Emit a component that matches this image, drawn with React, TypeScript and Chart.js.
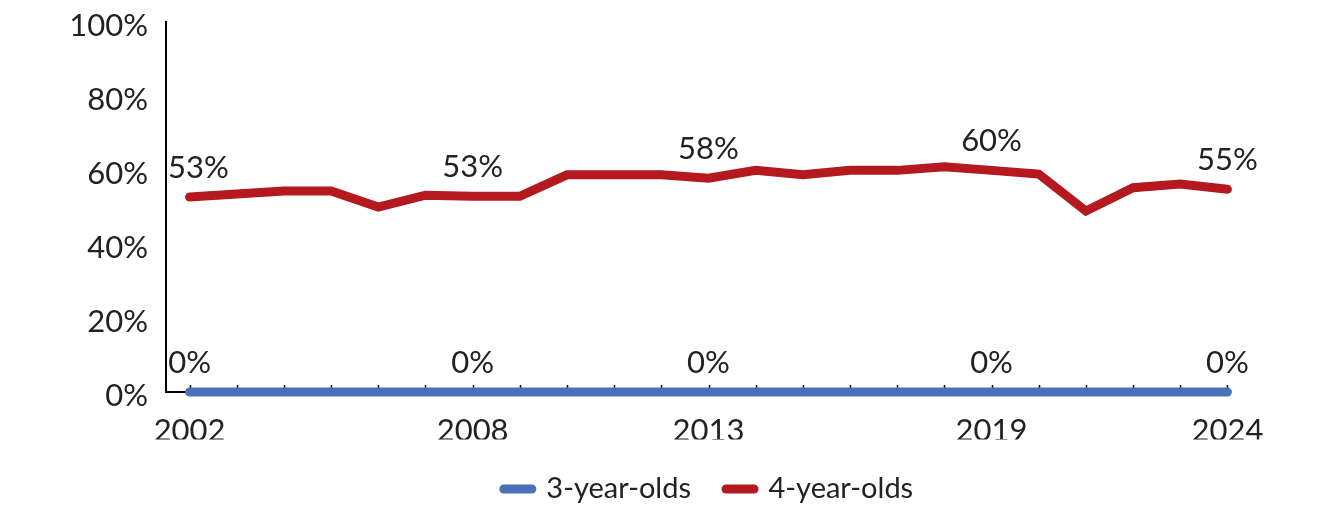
import React, { useEffect, useRef } from "react";
import { Chart, registerables } from "chart.js";

Chart.register(...registerables);

const years = [
  "2002", "2003", "2004", "2005", "2006", "2007", "2008", "2009", "2010", "2011", "2012", "2013",
  "2014", "2015", "2016", "2017", "2018", "2019", "2020", "2021", "2022", "2023", "2024",
];
const threeYearOlds = [0, 0, 0, 0, 0, 0, 0, 0, 0, 0, 0, 0, 0, 0, 0, 0, 0, 0, 0, 0, 0, 0, 0];
const fourYearOlds = [
  52.7, 53.5, 54.3, 54.3, 50.0, 53.2, 52.9, 52.9, 58.7, 58.7, 58.7, 57.8,
  59.9, 58.7, 59.9, 59.9, 60.9, 59.9, 58.9, 48.9, 55.2, 56.2, 54.8,
];
const labeledYears = ["2002", "2008", "2013", "2019", "2024"];
const seriesNames = ["3-year-olds", "4-year-olds"];
const seriesColors = ["#4A70B8", "#B3191F"];
const yMin = 0;
const yMax = 100;
const yStep = 20;

const FONT = "Lato, 'Open Sans', sans-serif";
const TEXT = "#222222";
const FS = 31;

const axisPlugin = {
  id: "axisTicks",
  afterLayout(chart: any) {
    if (chart.legend) {
      chart.legend.left = chart.chartArea.left;
      chart.legend.right = chart.chartArea.right;
    }
  },
  beforeDatasetsDraw(chart: any) {
    const x = chart.scales.x;
    const bottom = chart.chartArea.bottom;
    const ctx = chart.ctx;
    ctx.save();
    ctx.strokeStyle = "#000";
    ctx.lineWidth = 2;
    ctx.beginPath();
    ctx.moveTo(chart.chartArea.left, bottom);
    ctx.lineTo(x.getPixelForValue(years.length - 1), bottom);
    ctx.stroke();
    ctx.lineWidth = 1.5;
    for (let i = 0; i < years.length; i++) {
      const px = Math.round(x.getPixelForValue(i)) + 0.5;
      ctx.beginPath();
      ctx.moveTo(px, bottom);
      ctx.lineTo(px, bottom - 7);
      ctx.stroke();
    }
    ctx.restore();
  },
};

const dataLabelsPlugin = {
  id: "dataLabels",
  afterDatasetsDraw(chart: any) {
    const ctx = chart.ctx;
    const left = chart.chartArea.left;
    ctx.save();
    ctx.font = `${FS}px ${FONT}`;
    ctx.fillStyle = TEXT;
    ctx.textBaseline = "middle";
    ctx.textAlign = "left";
    chart.data.datasets.forEach((ds: any, di: number) => {
      const meta = chart.getDatasetMeta(di);
      years.forEach((yr, i) => {
        if (!labeledYears.includes(yr)) return;
        const pt = meta.data[i];
        const text = Math.round(ds.data[i]) + "%";
        const w = ctx.measureText(text).width;
        let tx = pt.x - w / 2;
        if (tx < left + 2) tx = left + 2;
        ctx.fillText(text, tx, pt.y - 29);
      });
    });
    ctx.restore();
  },
};

export default function App() {
  const ref = useRef<HTMLCanvasElement | null>(null);

  useEffect(() => {
    document.body.style.margin = "0";
    document.body.style.overflow = "hidden";
    if (!ref.current) return;
    const mk = (i: number, data: number[]) => ({
      label: seriesNames[i],
      data,
      borderColor: seriesColors[i],
      backgroundColor: seriesColors[i],
      borderWidth: 9,
      borderCapStyle: "round",
      borderJoinStyle: "miter",
      pointRadius: 0,
      pointHoverRadius: 0,
      pointStyle: "line",
      tension: 0,
      clip: false,
    });
    const chart = new Chart(ref.current, {
      type: "line",
      data: {
        labels: years,
        datasets: [mk(0, threeYearOlds), mk(1, fourYearOlds)],
      } as any,
      options: {
        animation: false,
        responsive: true,
        maintainAspectRatio: false,
        layout: { padding: { top: 22, right: 83, left: 0, bottom: 7.5 } },
        font: { family: FONT },
        plugins: {
          tooltip: { enabled: false },
          legend: {
            position: "bottom",
            labels: {
              usePointStyle: true,
              pointStyleWidth: 28,
              color: TEXT,
              font: { family: FONT, size: 29 },
              padding: 35,
              generateLabels: (c: any) => {
                const items = (Chart.defaults as any).plugins.legend.labels.generateLabels(c);
                items.forEach((it: any) => {
                  it.lineCap = "round";
                  it.lineWidth = 9;
                  it.strokeStyle = seriesColors[it.datasetIndex];
                });
                return items;
              },
            },
          },
        },
        scales: {
          x: {
            type: "category",
            offset: true,
            grid: { display: false, drawTicks: false },
            border: { display: false },
            afterFit: (scale: any) => {
              scale.height = 47.5;
            },
            ticks: {
              autoSkip: false,
              maxRotation: 0,
              minRotation: 0,
              padding: 20,
              color: TEXT,
              font: { family: FONT, size: FS },
              callback: (_v: any, i: number) => (labeledYears.includes(years[i]) ? years[i] : ""),
            },
          },
          y: {
            min: yMin,
            max: yMax,
            grid: { display: false, drawTicks: false },
            border: { display: true, color: "#000", width: 2 },
            afterFit: (scale: any) => {
              scale.width = 166;
              scale.paddingTop = 0;
              scale.paddingBottom = 0;
            },
            ticks: {
              stepSize: yStep,
              padding: 18,
              labelOffset: 4,
              color: TEXT,
              font: { family: FONT, size: FS },
              callback: (v: any) => v + "%",
            },
          },
        },
      } as any,
      plugins: [axisPlugin, dataLabelsPlugin],
    });
    return () => chart.destroy();
  }, []);

  return (
    <div style={{ width: 1334, height: 521, position: "relative" }}>
      <canvas ref={ref} />
    </div>
  );
}
